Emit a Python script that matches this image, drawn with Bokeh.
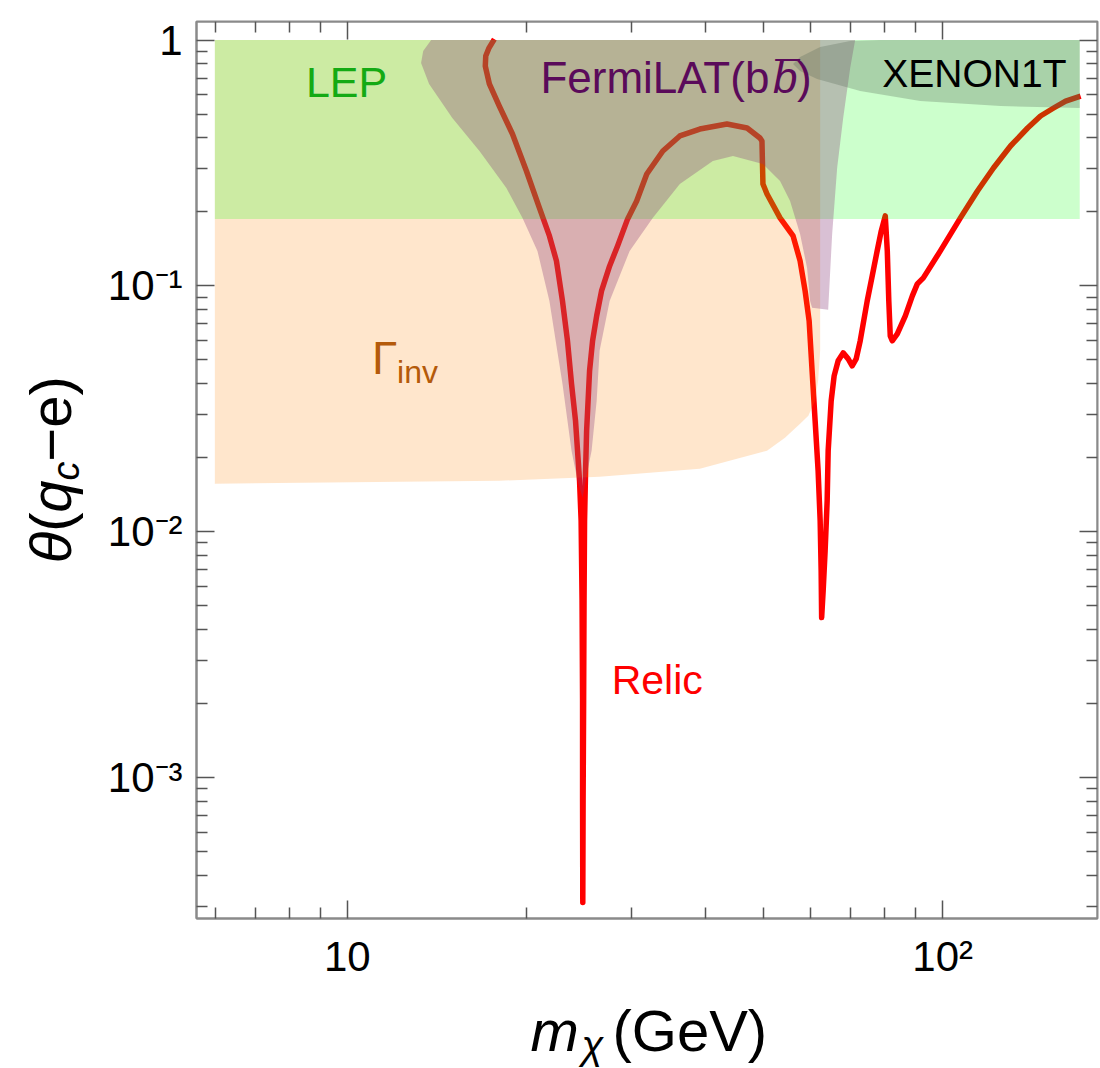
from bokeh.plotting import figure
from bokeh.models import LogAxis, FixedTicker, Range1d
from bokeh.core.properties import value
from bokeh.layouts import column, row
from bokeh.embed import file_html
from bokeh.resources import INLINE

FONT = "Liberation Sans"

# ---- Relic-density curve (m_chi in GeV, theta) ----
relic_mass = [17.66, 17.30, 17.08, 17.05, 17.32, 18.00, 18.94, 19.99, 21.02, 21.85, 22.45,
              22.98, 23.43, 23.80, 24.17, 24.36, 24.55, 24.70, 24.79, 24.84, 24.84,
              24.86, 24.89, 24.94, 24.98, 25.03, 25.13, 25.23, 25.52, 25.82, 26.23,
              26.73, 27.58, 28.44, 29.57, 30.62, 31.84, 33.88, 36.18, 39.09, 43.41,
              46.93, 49.33, 49.71, 49.90, 50.69, 53.31, 56.07, 57.61, 58.74, 59.66,
              60.35, 61.06, 61.77, 62.26, 62.50, 62.62, 62.99, 63.47, 63.97, 64.22,
              64.97, 65.72, 66.75, 68.06, 69.39, 70.47, 71.57, 72.69, 74.69, 76.15,
              77.62, 78.86, 80.09, 80.72, 81.19, 81.65, 82.28, 83.90, 86.55, 88.93,
              90.66, 92.80, 99.11, 107.1, 114.4, 121.7, 130.0, 138.9, 146.0, 153.6,
              160.9, 170.5]
relic_theta = [1.009, 0.930, 0.861, 0.784, 0.663, 0.539, 0.415, 0.2934, 0.2075, 0.1597, 0.1264,
               0.0869, 0.0598, 0.0400, 0.02827, 0.02135, 0.01612, 0.01108, 0.005242, 0.002056, 0.000806,
               0.000310, 0.000806, 0.002056, 0.005242, 0.01108, 0.01770, 0.02574, 0.0451, 0.0598, 0.07551,
               0.0954, 0.1206, 0.1454, 0.1873, 0.2216, 0.2853, 0.3538, 0.4073, 0.4346, 0.4556,
               0.4388, 0.3996, 0.3885, 0.2598, 0.2366, 0.1890, 0.1597, 0.1264, 0.0954, 0.07207,
               0.0451, 0.02827, 0.01770, 0.01108, 0.006943, 0.004472, 0.005757, 0.008373, 0.01337, 0.02135,
               0.03408, 0.04306, 0.04956, 0.05340, 0.05048, 0.04728, 0.05048, 0.0598, 0.0869, 0.1098,
               0.1388, 0.1674, 0.1926, 0.1388, 0.0869, 0.0626, 0.0598, 0.0638, 0.07551, 0.0911,
               0.1019, 0.1078, 0.1388, 0.1890, 0.2433, 0.3018, 0.3707, 0.4388, 0.4911, 0.5292,
               0.5649, 0.5921]

# ---- Invisible Z width exclusion (Gamma_inv) ----
ginv_mass = [5.99, 62.26, 62.26, 62.26, 61.77, 61.06, 59.48, 57.61, 54.34, 50.69,
             39.09, 26.53, 18.00, 5.99]
ginv_theta = [1.0, 1.0, 0.1388, 0.05442, 0.04110, 0.03408, 0.02961, 0.02748, 0.02411, 0.02135,
              0.01804, 0.01674, 0.01612, 0.01567]

# ---- LEP exclusion ----
lep_mass = [5.99, 169.9, 169.9, 5.99]
lep_theta = [0.1873, 0.1873, 1.0, 1.0]

# ---- Fermi-LAT (b bbar) exclusion ----
fermi_mass = [13.83, 13.41, 13.30, 13.72, 15.01, 16.67, 18.50, 19.69, 20.86, 21.85,
              22.98, 23.80, 24.36, 24.84, 25.32, 25.72, 26.23, 26.53, 27.58, 29.80,
              32.58, 36.18, 41.11, 44.44, 49.90, 53.31, 55.42, 57.61, 59.19, 59.89,
              60.35, 64.22, 65.22, 66.49, 68.06, 69.93, 71.29]
fermi_theta = [1.0, 0.902, 0.806, 0.663, 0.482, 0.3538, 0.2502, 0.1890, 0.1388, 0.0869,
               0.0400, 0.02135, 0.01612, 0.01374, 0.01770, 0.02135, 0.03408, 0.05442, 0.0869, 0.1388,
               0.1890, 0.2598, 0.3222, 0.3377, 0.3133, 0.2673, 0.2216, 0.1627, 0.1183, 0.0869,
               0.0814, 0.0799, 0.1627, 0.3018, 0.482, 0.7693, 1.0]

# ---- XENON1T exclusion ----
xenon_mass = [56.07, 57.61, 62.26, 69.93, 78.5, 169.9, 169.9, 125.1, 91.7, 72.69, 61.53, 57.61]
xenon_theta = [0.799, 0.853, 0.937, 0.991, 1.0, 1.0, 0.529, 0.539, 0.565, 0.620, 0.694, 0.748]

# ---- ticks ----
x_major = [10.0, 100.0]
x_major_labels = ["10", "10²"]
x_minor = [6.0, 7.0, 8.0, 9.0, 20.0, 30.0, 40.0, 50.0, 60.0, 70.0, 80.0, 90.0]
y_major = [0.001, 0.01, 0.1, 1.0]
y_major_labels = ["10⁻³", "10⁻²", "10⁻¹", "1"]
y_minor = [m * d for d in (1e-4, 1e-3, 1e-2, 1e-1) for m in range(2, 10)]

X_LO, X_HI = 5.58, 182.0
Y_LO, Y_HI = 2.67e-4, 1.19

p = figure(width=1002, height=990, x_axis_type="log", y_axis_type="log",
           x_range=Range1d(X_LO, X_HI), y_range=Range1d(Y_LO, Y_HI), title=None,
           output_backend="svg", toolbar_location=None,
           min_border_left=98, min_border_right=3, min_border_top=21,
           min_border_bottom=72, background_fill_color="white",
           border_fill_color="white")
p.xgrid.visible = False
p.ygrid.visible = False
p.outline_line_color = "#8a8a8a"
p.outline_line_width = 2

# curve first (shaded regions are drawn on top of it)
p.line(relic_mass, relic_theta, line_color="#ff0000", line_width=5.5,
       line_join="round", line_cap="butt")

p.patch(ginv_mass, ginv_theta, fill_color="#ff8000", fill_alpha=0.2, line_alpha=0)
p.patch(lep_mass, lep_theta, fill_color="#00ff00", fill_alpha=0.2, line_alpha=0)
p.patch(fermi_mass, fermi_theta, fill_color="#8a3c78", fill_alpha=0.32, line_alpha=0)
p.patch(xenon_mass, xenon_theta, fill_color="#5a6a5a", fill_alpha=0.3, line_alpha=0)


def style_axis(ax, ticks, minor, labels, show):
    ax.ticker = FixedTicker(ticks=ticks, minor_ticks=minor)
    ax.major_tick_in = 18
    ax.major_tick_out = 0
    ax.minor_tick_in = 11
    ax.minor_tick_out = 0
    ax.major_tick_line_color = "#555555"
    ax.minor_tick_line_color = "#555555"
    ax.major_tick_line_width = 1.5
    ax.minor_tick_line_width = 1.5
    ax.axis_line_color = "#8a8a8a"
    ax.axis_line_width = 2
    ax.axis_label = None
    if show:
        ax.major_label_overrides = dict(zip(ticks, labels))
        ax.major_label_text_font = FONT
        ax.major_label_text_font_size = "42px"
        ax.major_label_text_color = "black"
    else:
        ax.major_label_overrides = {t: "" for t in ticks}
        ax.major_label_text_font_size = "0px"
        ax.major_label_text_alpha = 0
        ax.major_label_standoff = 0


style_axis(p.xaxis[0], x_major, x_minor, x_major_labels, True)
p.xaxis[0].major_label_standoff = 14
style_axis(p.yaxis[0], y_major, y_minor, y_major_labels, True)
p.yaxis[0].major_label_standoff = 14

top_ax = LogAxis(fixed_location=Y_HI)
style_axis(top_ax, x_major, x_minor, x_major_labels, False)
p.add_layout(top_ax, "above")
right_ax = LogAxis(fixed_location=X_HI)
style_axis(right_ax, y_major, y_minor, y_major_labels, False)
p.add_layout(right_ax, "right")


def txt(fig, x, y, text, size, color="black", style="normal", angle=0.0, align="left"):
    fig.text(x=[x], y=[y], text=[text], angle=angle,
             text_font=value(FONT), text_font_size=value(size),
             text_color=color, text_font_style=style,
             text_baseline="middle", text_align=align)


# region labels (anchor = vertical middle of the text)
txt(p, 8.52, 0.677, "LEP", "43px", "#14aa14")
txt(p, 21.10, 0.7054, "FermiLAT(b", "44px", "#5a0a5a")
txt(p, 51.9, 0.7054, "b", "44px", "#5a0a5a", "italic")
txt(p, 52.4, 0.7054, "¯", "44px", "#5a0a5a")
txt(p, 56.9, 0.7054, ")", "44px", "#5a0a5a")
txt(p, 79.16, 0.733, "XENON1T", "39px", "black")
txt(p, 11.0, 0.05073, "Γ", "46px", "#b45a0a")
txt(p, 12.12, 0.04479, "inv", "32px", "#b45a0a")
txt(p, 27.80, 0.002493, "Relic", "41px", "#ff0000")


def blank(w, h, xr, yr, top=0, bottom=0):
    f = figure(width=w, height=h, x_range=xr, y_range=yr, title=None,
               output_backend="svg", toolbar_location=None,
               x_axis_location=None, y_axis_location=None,
               min_border_left=0, min_border_right=0,
               min_border_top=top, min_border_bottom=bottom,
               outline_line_color=None,
               background_fill_color="white", border_fill_color="white")
    f.xgrid.visible = False
    f.ygrid.visible = False
    return f


# y-axis title panel: its frame spans the same page rows as the main frame
ylab = blank(98, 990, Range1d(0, 98), Range1d(918, 21), top=21, bottom=72)
ang = 1.5707963
txt(ylab, 50, 547, "θ", "58px", "black", "italic", ang, "center")
txt(ylab, 50, 521.5, "(", "58px", "black", "normal", ang, "center")
txt(ylab, 50, 496, "q", "58px", "black", "italic", ang, "center")
txt(ylab, 65.6, 470.5, "c", "38px", "black", "italic", ang, "center")
txt(ylab, 50, 418.5, "−e)", "58px", "black", "normal", ang, "center")

# x-axis title panel
xlab = blank(1100, 78, Range1d(0, 1100), Range1d(78, 0))
txt(xlab, 530, 40, "m", "58px", "black", "italic")
txt(xlab, 581, 54.6, "χ", "40px", "black", "italic")
txt(xlab, 612, 40, "(GeV)", "58px", "black", "normal")

layout = column(row(ylab, p, spacing=0), xlab, spacing=0)
open("out.html", "w").write(file_html(layout, INLINE))
